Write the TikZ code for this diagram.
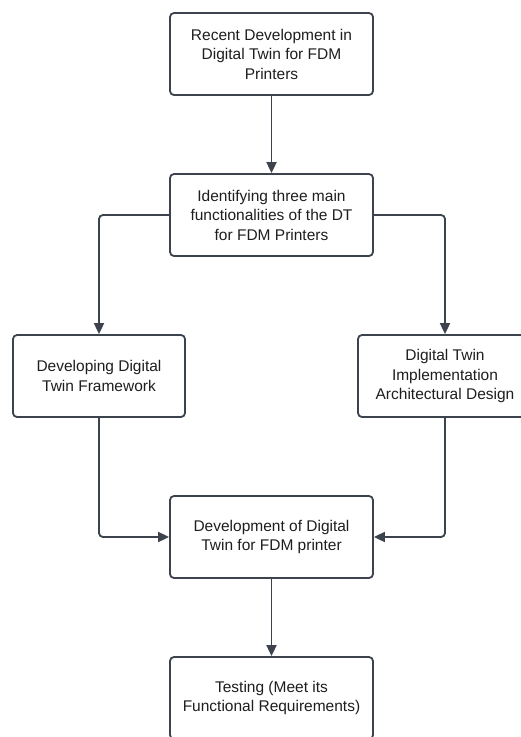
\documentclass[tikz,border=0pt]{standalone}
\usepackage{fontspec}
\setmainfont{Liberation Sans}
\usetikzlibrary{arrows.meta}
\definecolor{edge}{HTML}{3C434C}
\definecolor{ink}{HTML}{1E1E1E}
\begin{document}
\begin{tikzpicture}[x=1pt,y=-1pt,
  box/.style={draw=edge, line width=1.8pt, rounded corners=4pt, fill=white,
    minimum height=82pt, align=center, text=ink, inner sep=2pt,
    font=\fontsize{15.5pt}{19.5pt}\selectfont},
  conn/.style={draw=edge, line width=1.8pt, rounded corners=4pt,
    -{Triangle[length=11pt,width=10pt]}}]
\useasboundingbox (0,0) rectangle (521,737);
\clip (0,0) rectangle (521,737);
\fill[white] (0,0) rectangle (521,737);
\node[box, minimum width=203pt] (b1) at (271.5,54) {Recent Development in\\Digital Twin for FDM\\Printers};
\node[box, minimum width=203pt] (b2) at (271.5,215) {Identifying three main\\functionalities of the DT\\for FDM Printers};
\node[box, minimum width=172pt] (b3) at (99,376) {Developing Digital\\Twin Framework};
\node[box, minimum width=174pt] (b4) at (445,376) {Digital Twin\\Implementation\\Architectural Design};
\node[box, minimum width=203pt] (b5) at (271.5,537) {Development of Digital\\Twin for FDM printer};
\node[box, minimum width=203pt] (b6) at (271.5,698) {Testing (Meet its\\Functional Requirements)};
\draw[conn] (b1.south) -- (b2.north);
\draw[conn] (b2.west) -| (b3.north);
\draw[conn] (b2.east) -| (b4.north);
\draw[conn] (b3.south) |- (b5.west);
\draw[conn] (b4.south) |- (b5.east);
\draw[conn] (b5.south) -- (b6.north);
\end{tikzpicture}
\end{document}
